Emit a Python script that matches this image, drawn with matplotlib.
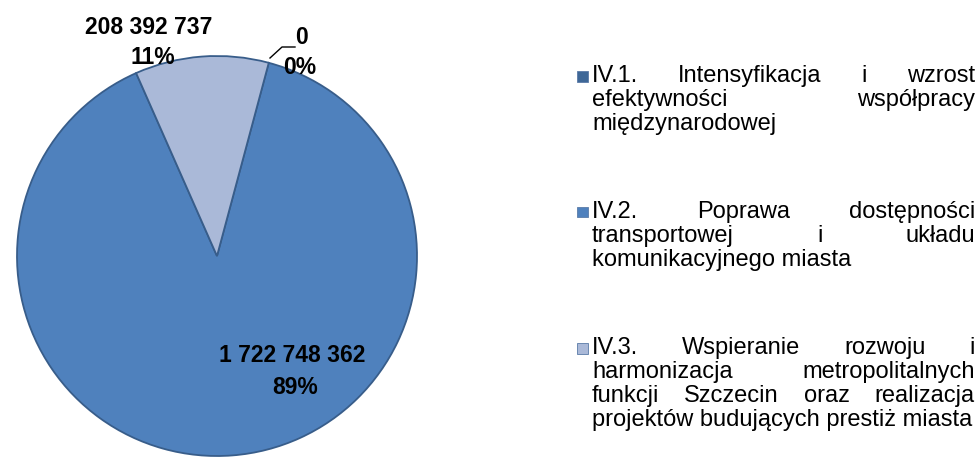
import matplotlib
matplotlib.use("Agg")
import matplotlib.pyplot as plt
from matplotlib.patches import Rectangle
from matplotlib.lines import Line2D

# data
categories = ["IV.1. Intensyfikacja i wzrost efektywności współpracy międzynarodowej",
              "IV.2. Poprawa dostępności transportowej i układu komunikacyjnego miasta",
              "IV.3. Wspieranie rozwoju i harmonizacja metropolitalnych funkcji Szczecin oraz realizacja projektów budujących prestiż miasta"]
values = [0, 1722748362, 208392737]
colors = ["#3E6797", "#4F81BD", "#AAB9D8"]

# legend line breaks as in the original
legend_lines = [["IV.1. Intensyfikacja i wzrost", "efektywności współpracy", "międzynarodowej"],
                ["IV.2. Poprawa dostępności", "transportowej i układu", "komunikacyjnego miasta"],
                ["IV.3. Wspieranie rozwoju i", "harmonizacja metropolitalnych",
                 "funkcji Szczecin oraz realizacja", "projektów budujących prestiż miasta"]]

plt.rcParams['font.family'] = ['Liberation Sans', 'DejaVu Sans']

W, H = 977, 457
fig = plt.figure(figsize=(W / 100, H / 100), dpi=100)

def px(x, y):
    return x / W, 1 - y / H

# pie axes: centre (217, 256), radius 200 px
cx, cy, r = 217, 256, 200
ax = fig.add_axes([(cx - r) / W, (H - cy - r) / H, 2 * r / W, 2 * r / H])
ax.pie(values, colors=colors, startangle=75, counterclock=False, radius=1,
       wedgeprops=dict(edgecolor="#385D8A", linewidth=1.3))
ax.set_xlim(-1, 1)
ax.set_ylim(-1, 1)
ax.set_aspect("equal")
ax.axis("off")

total = sum(values)

def fmt(v):
    return "{:,}".format(v).replace(",", " ")

# value / percent label centres (px) for each slice
value_pos = [(302, 38), (292, 356), (149, 28)]
pct_pos = [(300, 68), (295, 388), (153, 58)]
for v, p1, p2 in zip(values, value_pos, pct_pos):
    fig.text(*px(*p1), fmt(v), ha="center", va="center", fontsize=16.5, fontweight="bold")
    fig.text(*px(*p2), "{:.0f}%".format(100 * v / total), ha="center", va="center",
             fontsize=16.5, fontweight="bold")

# leader line of the zero slice
lx = [270, 282, 295]
ly = [58, 47, 47]
fig.add_artist(Line2D([a / W for a in lx], [1 - b / H for b in ly],
                      color="black", linewidth=1))

# legend with justified text
fs = 17
left, right = 592, 975
line_h = 24
block_top = [76, 212, 348]
renderer = fig.canvas.get_renderer()

def word_width(w):
    t = fig.text(0, 0, w, fontsize=fs)
    bb = t.get_window_extent(renderer)
    t.remove()
    return bb.width

for k, lines in enumerate(legend_lines):
    y0 = block_top[k]
    sq = 11
    fig.add_artist(Rectangle(px(577, y0 + sq / 2), sq / W, sq / H,
                             facecolor=colors[k], edgecolor="#5A7BA8", linewidth=0.6,
                             transform=fig.transFigure))
    for j, line in enumerate(lines):
        y = y0 + j * line_h
        words = line.split(" ")
        if j == len(lines) - 1 or len(words) == 1:
            fig.text(*px(left, y), line, fontsize=fs, ha="left", va="center")
            continue
        widths = [word_width(w) for w in words]
        gap = (right - left - sum(widths)) / (len(words) - 1)
        x = left
        for w, ww in zip(words, widths):
            fig.text(*px(x, y), w, fontsize=fs, ha="left", va="center")
            x += ww + gap

fig.savefig("out.png", dpi=100)
